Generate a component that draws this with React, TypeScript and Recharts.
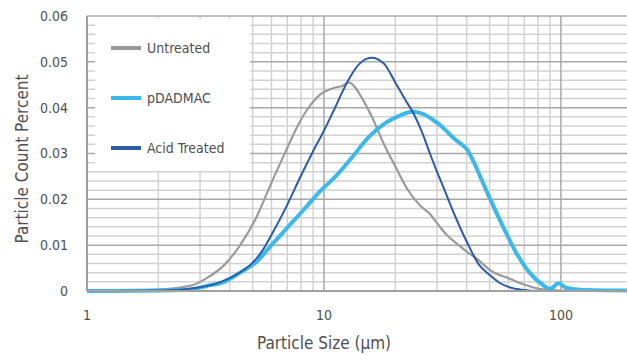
import { LineChart, Line, XAxis, YAxis, ReferenceLine, Legend, Label } from 'recharts'

const FONT = '"Liberation Sans Narrow", "DejaVu Sans Condensed", "Noto Sans", sans-serif'

// particle size (µm) / count percent
const untreatedSize = [1, 1.5, 2, 2.5, 2.8, 3.2, 3.8, 4.4, 5.2, 6, 7, 7.6, 8.5, 9.6, 11, 12, 12.7, 13.5, 14.2, 16, 18, 20, 22.5, 25.5, 28, 30, 33, 37.5, 40, 44, 51, 60, 70, 82, 100, 190]
const untreatedPct = [0, 0.0001, 0.0003, 0.0008, 0.0013, 0.0028, 0.0057, 0.0098, 0.0162, 0.0236, 0.0312, 0.0352, 0.0396, 0.0428, 0.0443, 0.0448, 0.0455, 0.0445, 0.0428, 0.0378, 0.0318, 0.0272, 0.0222, 0.0186, 0.0168, 0.0148, 0.0122, 0.0098, 0.0086, 0.0071, 0.0043, 0.0028, 0.0014, 0.0004, 0.0001, 0]

const pdadmacSize = [1, 2, 2.5, 2.8, 3.2, 3.8, 4.4, 5.2, 6, 7, 8.3, 9.6, 11.2, 13.2, 15.4, 18, 21, 23.5, 26, 28, 32, 35, 38, 40, 43, 45.6, 52, 57, 65, 74, 84, 90, 98, 105, 120, 190]
const pdadmacPct = [0, 0.0001, 0.0002, 0.0004, 0.0011, 0.002, 0.0039, 0.0064, 0.01, 0.0138, 0.018, 0.0217, 0.025, 0.0293, 0.0335, 0.0365, 0.0383, 0.0391, 0.0387, 0.0378, 0.0355, 0.0335, 0.032, 0.031, 0.028, 0.025, 0.0184, 0.014, 0.0082, 0.0039, 0.0013, 0.0005, 0.0017, 0.0007, 0.0003, 0.0001]

const acidSize = [1, 2, 2.5, 3, 3.5, 4, 4.5, 5, 5.5, 6, 7, 8, 9, 10, 11, 12, 13, 14, 15, 16, 17, 18, 20, 22, 24, 26, 28, 30, 32, 35, 40, 45, 50, 55, 60, 70, 80, 190]
const acidPct = [0, 0.0001, 0.0003, 0.0008, 0.0016, 0.0028, 0.0043, 0.0062, 0.0088, 0.0122, 0.0188, 0.0252, 0.0305, 0.035, 0.0394, 0.0436, 0.047, 0.0494, 0.0506, 0.0509, 0.0505, 0.0495, 0.0455, 0.0418, 0.0385, 0.0345, 0.03, 0.026, 0.0225, 0.0175, 0.0108, 0.0058, 0.0035, 0.0018, 0.0009, 0.0002, 0, 0]

const xTicks = [1, 10, 100]
const yTicks = [0, 0.01, 0.02, 0.03, 0.04, 0.05, 0.06]
const xMinorGrid = [2, 3, 4, 5, 6, 7, 8, 9, 20, 30, 40, 50, 60, 70, 80, 90]
const xMajorGrid = [10, 100]
const yMinorGrid = [0.002, 0.004, 0.006, 0.008, 0.012, 0.014, 0.016, 0.018, 0.022, 0.024, 0.026, 0.028, 0.032, 0.034, 0.036, 0.038, 0.042, 0.044, 0.046, 0.048, 0.052, 0.054, 0.056, 0.058]
const yMajorGrid = [0.01, 0.02, 0.03, 0.04, 0.05, 0.06]

const toPoints = (xs: number[], ys: number[]) => xs.map((x, i) => ({ size: x, pct: ys[i] }))

const series = [
  { name: 'Untreated', color: '#9b9b9b', width: 2.2, data: toPoints(untreatedSize, untreatedPct) },
  { name: 'pDADMAC', color: '#3cb9ea', width: 4, data: toPoints(pdadmacSize, pdadmacPct) },
  { name: 'Acid Treated', color: '#2a5ca8', width: 2, data: toPoints(acidSize, acidPct) },
]

const renderLegend = () => (
  <div style={{ background: '#fff', width: 155, height: 152, boxSizing: 'border-box', paddingTop: 4 }}>
    {series.map(s => (
      <div key={s.name} style={{ display: 'flex', alignItems: 'center', height: 50 }}>
        <div style={{ width: 30, height: 3.5, background: s.color, marginLeft: 16, marginRight: 6 }} />
        <span style={{ fontFamily: FONT, fontSize: 14, color: '#505050' }}>{s.name}</span>
      </div>
    ))}
  </div>
)

export default function App() {
  return (
    <div style={{ position: 'absolute', left: 0, top: 0, background: '#fff' }}>
      <LineChart width={627} height={355} margin={{ top: 16, right: 0, left: 0, bottom: 0 }}>
        <XAxis
          dataKey="size"
          type="number"
          scale="log"
          domain={[1, 190]}
          allowDataOverflow
          ticks={xTicks}
          height={64}
          tickLine={false}
          tickSize={8}
          tickMargin={11}
          axisLine={{ stroke: '#a0a0a0', strokeWidth: 2 }}
          tick={{ fill: '#505050', fontSize: 14, fontFamily: FONT }}
        >
          <Label
            content={() => (
              <text x={324} y={349} textAnchor="middle" fill="#505050" fontSize={17} fontFamily={FONT}>
                Particle Size (µm)
              </text>
            )}
          />
        </XAxis>
        <YAxis
          dataKey="pct"
          type="number"
          domain={[0, 0.06]}
          ticks={yTicks}
          width={87}
          tickLine={false}
          tickSize={8}
          tickMargin={11}
          axisLine={{ stroke: '#a0a0a0', strokeWidth: 2 }}
          tickFormatter={(v: number) => (v === 0 ? '0' : v.toFixed(2))}
          tick={{ fill: '#505050', fontSize: 14, fontFamily: FONT }}
        >
          <Label
            content={() => (
              <text x={28} y={159} transform="rotate(-90 28 159)" textAnchor="middle" fill="#505050" fontSize={17} fontFamily={FONT}>
                Particle Count Percent
              </text>
            )}
          />
        </YAxis>
        {yMinorGrid.map(v => (
          <ReferenceLine key={`ym${v}`} y={v} stroke="#d2d2d2" strokeWidth={1.5} />
        ))}
        {xMinorGrid.map(v => (
          <ReferenceLine key={`xm${v}`} x={v} stroke="#d2d2d2" strokeWidth={1.5} />
        ))}
        {yMajorGrid.map(v => (
          <ReferenceLine key={`yM${v}`} y={v} stroke="#a8a8a8" strokeWidth={1.5} />
        ))}
        {xMajorGrid.map(v => (
          <ReferenceLine key={`xM${v}`} x={v} stroke="#a8a8a8" strokeWidth={1.5} />
        ))}
        {series.map(s => (
          <Line
            key={s.name}
            data={s.data}
            dataKey="pct"
            name={s.name}
            type="monotone"
            stroke={s.color}
            strokeWidth={s.width}
            dot={false}
            isAnimationActive={false}
          />
        ))}
        <Legend
          layout="vertical"
          align="center"
          verticalAlign="middle"
          content={renderLegend}
          wrapperStyle={{ left: 95, top: 19, width: 155, height: 152 }}
        />
      </LineChart>
    </div>
  )
}
